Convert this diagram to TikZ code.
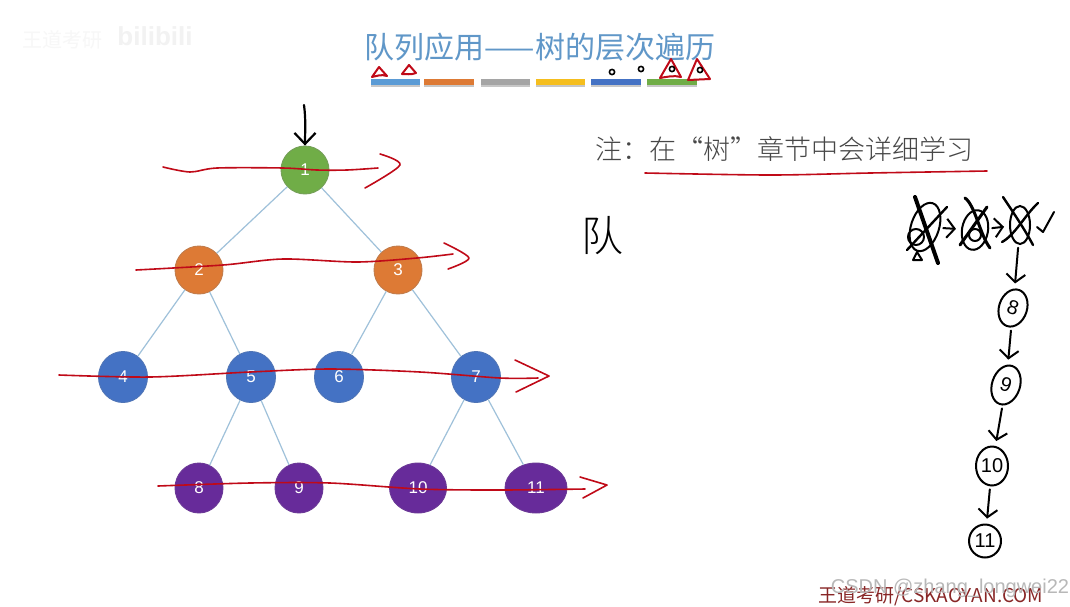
\documentclass[tikz,border=0pt]{standalone}
\usepackage{fontspec}
\setmainfont{Liberation Sans}
\newfontfamily\cjk{Noto Sans CJK SC}
\newfontfamily\cjkthin{Noto Sans CJK SC Light}
\usetikzlibrary{shapes.geometric,arrows.meta}
\definecolor{barblue}{HTML}{5B9BD5}
\definecolor{barorange}{HTML}{DD7A35}
\definecolor{bargrey}{HTML}{A5A5A5}
\definecolor{baryellow}{HTML}{F5BE1E}
\definecolor{bardark}{HTML}{4472C4}
\definecolor{bargreen}{HTML}{70AD47}
\definecolor{barpurple}{HTML}{672B9A}
\definecolor{inkred}{HTML}{C00A18}
\definecolor{twig}{HTML}{9FC1DA}
\begin{document}
\begin{tikzpicture}[x=1pt,y=-1pt,
  tv/.style={ellipse,minimum width=48pt,minimum height=48pt,inner sep=0pt,line width=0.9pt,text=white,font=\fontsize{17}{17}\selectfont},
  gv/.style={tv,fill=bargreen,draw=bargreen!70!gray},
  ov/.style={tv,fill=barorange,draw=barorange!70!gray},
  bv/.style={tv,fill=bardark,draw=bardark!80!gray,minimum height=51pt,minimum width=49pt},
  pv/.style={tv,fill=barpurple,draw=barpurple!85!gray,minimum height=50pt},
  qv/.style={ellipse,draw=black,line width=2pt,inner sep=0pt,font=\fontsize{20}{20}\selectfont},
  te/.style={draw=twig,line width=1.2pt},
  re/.style={draw=inkred,line width=1.6pt,line cap=round,line join=round},
  ke/.style={draw=black,line width=2pt,line cap=round,line join=round},
  qe/.style={ke,shorten <=3pt,shorten >=5pt,-{Straight Barb[length=8pt,width=19pt]}}]
  \path[use as bounding box,fill=white] (0,0) rectangle (1070,606);
  % title and colour bars
  \node[text=barblue!85!gray,font=\cjk\fontsize{30}{30}\selectfont] (title) at (540,47) {队列应用——树的层次遍历};
  \foreach \xa/\xb/\c in {371/420/barblue,424/474/barorange,481/530/bargrey,536/585/baryellow,591/641/bardark,647/697/bargreen} {
    \fill[black!22] (\xa,81) rectangle (\xb,87);
    \fill[\c] (\xa,79) rectangle (\xb,85);
  }
  % red marks over the bars
  \draw[re,line width=2pt] (379,67) -- (387,76) .. controls (381,74) and (377,76) .. (372,77) -- cycle;
  \draw[re,line width=2pt] (409,65) -- (416,73) .. controls (411,75) and (406,74) .. (402,74) -- cycle;
  \draw[re,line width=2pt] (671,59) -- (681,77) .. controls (674,75) and (666,77) .. (660,78) -- cycle;
  \draw[re,line width=2pt] (697,59) -- (710,79) -- (688,80) -- cycle;
  \foreach \x/\y in {612/72,641/69,672/69,700/70} \draw[black,line width=1.6pt] (\x,\y) circle (2.6pt);
  % tree
  \node[gv] (n1) at (305,170) {1};
  \node[ov] (n2) at (199,270) {2};
  \node[ov] (n3) at (398,270) {3};
  \node[bv] (n4) at (123,377) {4};
  \node[bv] (n5) at (251,377) {5};
  \node[bv] (n6) at (339,377) {6};
  \node[bv] (n7) at (476,377) {7};
  \node[pv] (n8) at (199,488) {8};
  \node[pv] (n9) at (299,488) {9};
  \node[pv,minimum width=57pt] (n10) at (418,488) {10};
  \node[pv,minimum width=62pt] (n11) at (536,488) {11};
  \foreach \a/\b in {n1/n2,n1/n3,n2/n4,n2/n5,n3/n6,n3/n7,n5/n8,n5/n9,n7/n10,n7/n11} \draw[te] (\a) -- (\b);
  \coordinate (entry) at (304,105);
  \draw[ke,line width=2.2pt,-{Straight Barb[length=11pt,width=21pt]}] (entry) .. controls (306,120) and (305,132) .. (n1);
  % red sweeps
  \draw[re] plot[smooth] coordinates {(163,167) (190,172) (217,168) (283,168) (317,170) (347,170) (378,168)};
  \draw[re] plot[smooth] coordinates {(380,154) (400,165) (365,188)};
  \draw[re] plot[smooth] coordinates {(136,270) (223,265) (283,259) (357,262) (417,258) (453,254)};
  \draw[re] plot[smooth] coordinates {(444,243) (469,258) (448,269)};
  \draw[re] plot[smooth] coordinates {(59,375) (150,377) (250,372) (330,369) (420,372) (500,378) (538,378)};
  \draw[re] (515,360) -- (549,376) -- (516,392);
  \draw[re] plot[smooth] coordinates {(158,486) (250,483) (330,483) (420,489) (500,490) (585,489)};
  \draw[re] (580,477) -- (607,485) -- (583,498);
  % note
  \node[text=black!72,font=\cjkthin\fontsize{27}{27}\selectfont,anchor=west] (note) at (592,149) {注：在“树”章节中会详细学习};
  \draw[re] plot[smooth] coordinates {(645,173) (770,175) (870,173) (987,171)};
  \node[font=\cjkthin\fontsize{42}{42}\selectfont] (dui) at (602,236) {队};
  % queue
  \node[qv,minimum width=28pt,minimum height=50pt,rotate=-18] (q5) at (925,227) {};
  \node[qv,minimum width=26pt,minimum height=40pt,rotate=-10] (q6) at (975,230) {};
  \node[qv,minimum width=20pt,minimum height=38pt] (q7) at (1020,225) {};
  \node[qv,minimum width=28pt,minimum height=38pt,rotate=-18] (q8) at (1013,308) {8};
  \node[qv,minimum width=28pt,minimum height=40pt,rotate=-18] (q9) at (1006,385) {9};
  \node[qv,minimum width=32pt,minimum height=39pt] (q10) at (992,466) {10};
  \node[qv,minimum width=32pt,minimum height=33pt] (q11) at (985,541) {11};
  \foreach \a/\b in {q5/q6,q6/q7,q7/q8,q8/q9,q9/q10,q10/q11} \draw[qe] (\a) -- (\b);
  % crossings out
  \draw[ke,line width=4pt] (915,197) -- (938,263);
  \draw[ke,line width=2.4pt] (947,207) -- (907,250);
  \draw[ke] (916,237) circle (8pt);
  \draw[ke] (917,252) -- (922,260) -- (913,260) -- cycle;
  \draw[ke,line width=3pt] (965,198) .. controls (975,205) and (980,235) .. (990,248);
  \draw[ke,line width=3pt] (987,207) -- (960,245);
  \draw[ke] (975,235) circle (6pt);
  \draw[ke,line width=2.4pt] (1003,197) .. controls (1015,215) and (1025,230) .. (1033,245);
  \draw[ke,line width=2.4pt] (1038,203) .. controls (1025,215) and (1015,235) .. (1002,242);
  \draw[ke] (1037,227) -- (1043,232) -- (1054,212);
  % footer and marks
  \node[text=red!45!black!85,font=\cjk\fontsize{19}{19}\selectfont] (site) at (931,596) {王道考研/CSKAOYAN.COM};
  \node[text=black!28,font=\fontsize{20}{20}\selectfont] (csdn) at (950,588) {CSDN @zhang\_longwei22};
  \node[text=black!3,font=\cjk\fontsize{20}{20}\selectfont] (wm) at (62,40) {王道考研};
  \node[text=black!5,font=\bfseries\fontsize{26}{26}\selectfont] (bili) at (155,36) {bilibili};
\end{tikzpicture}
\end{document}
